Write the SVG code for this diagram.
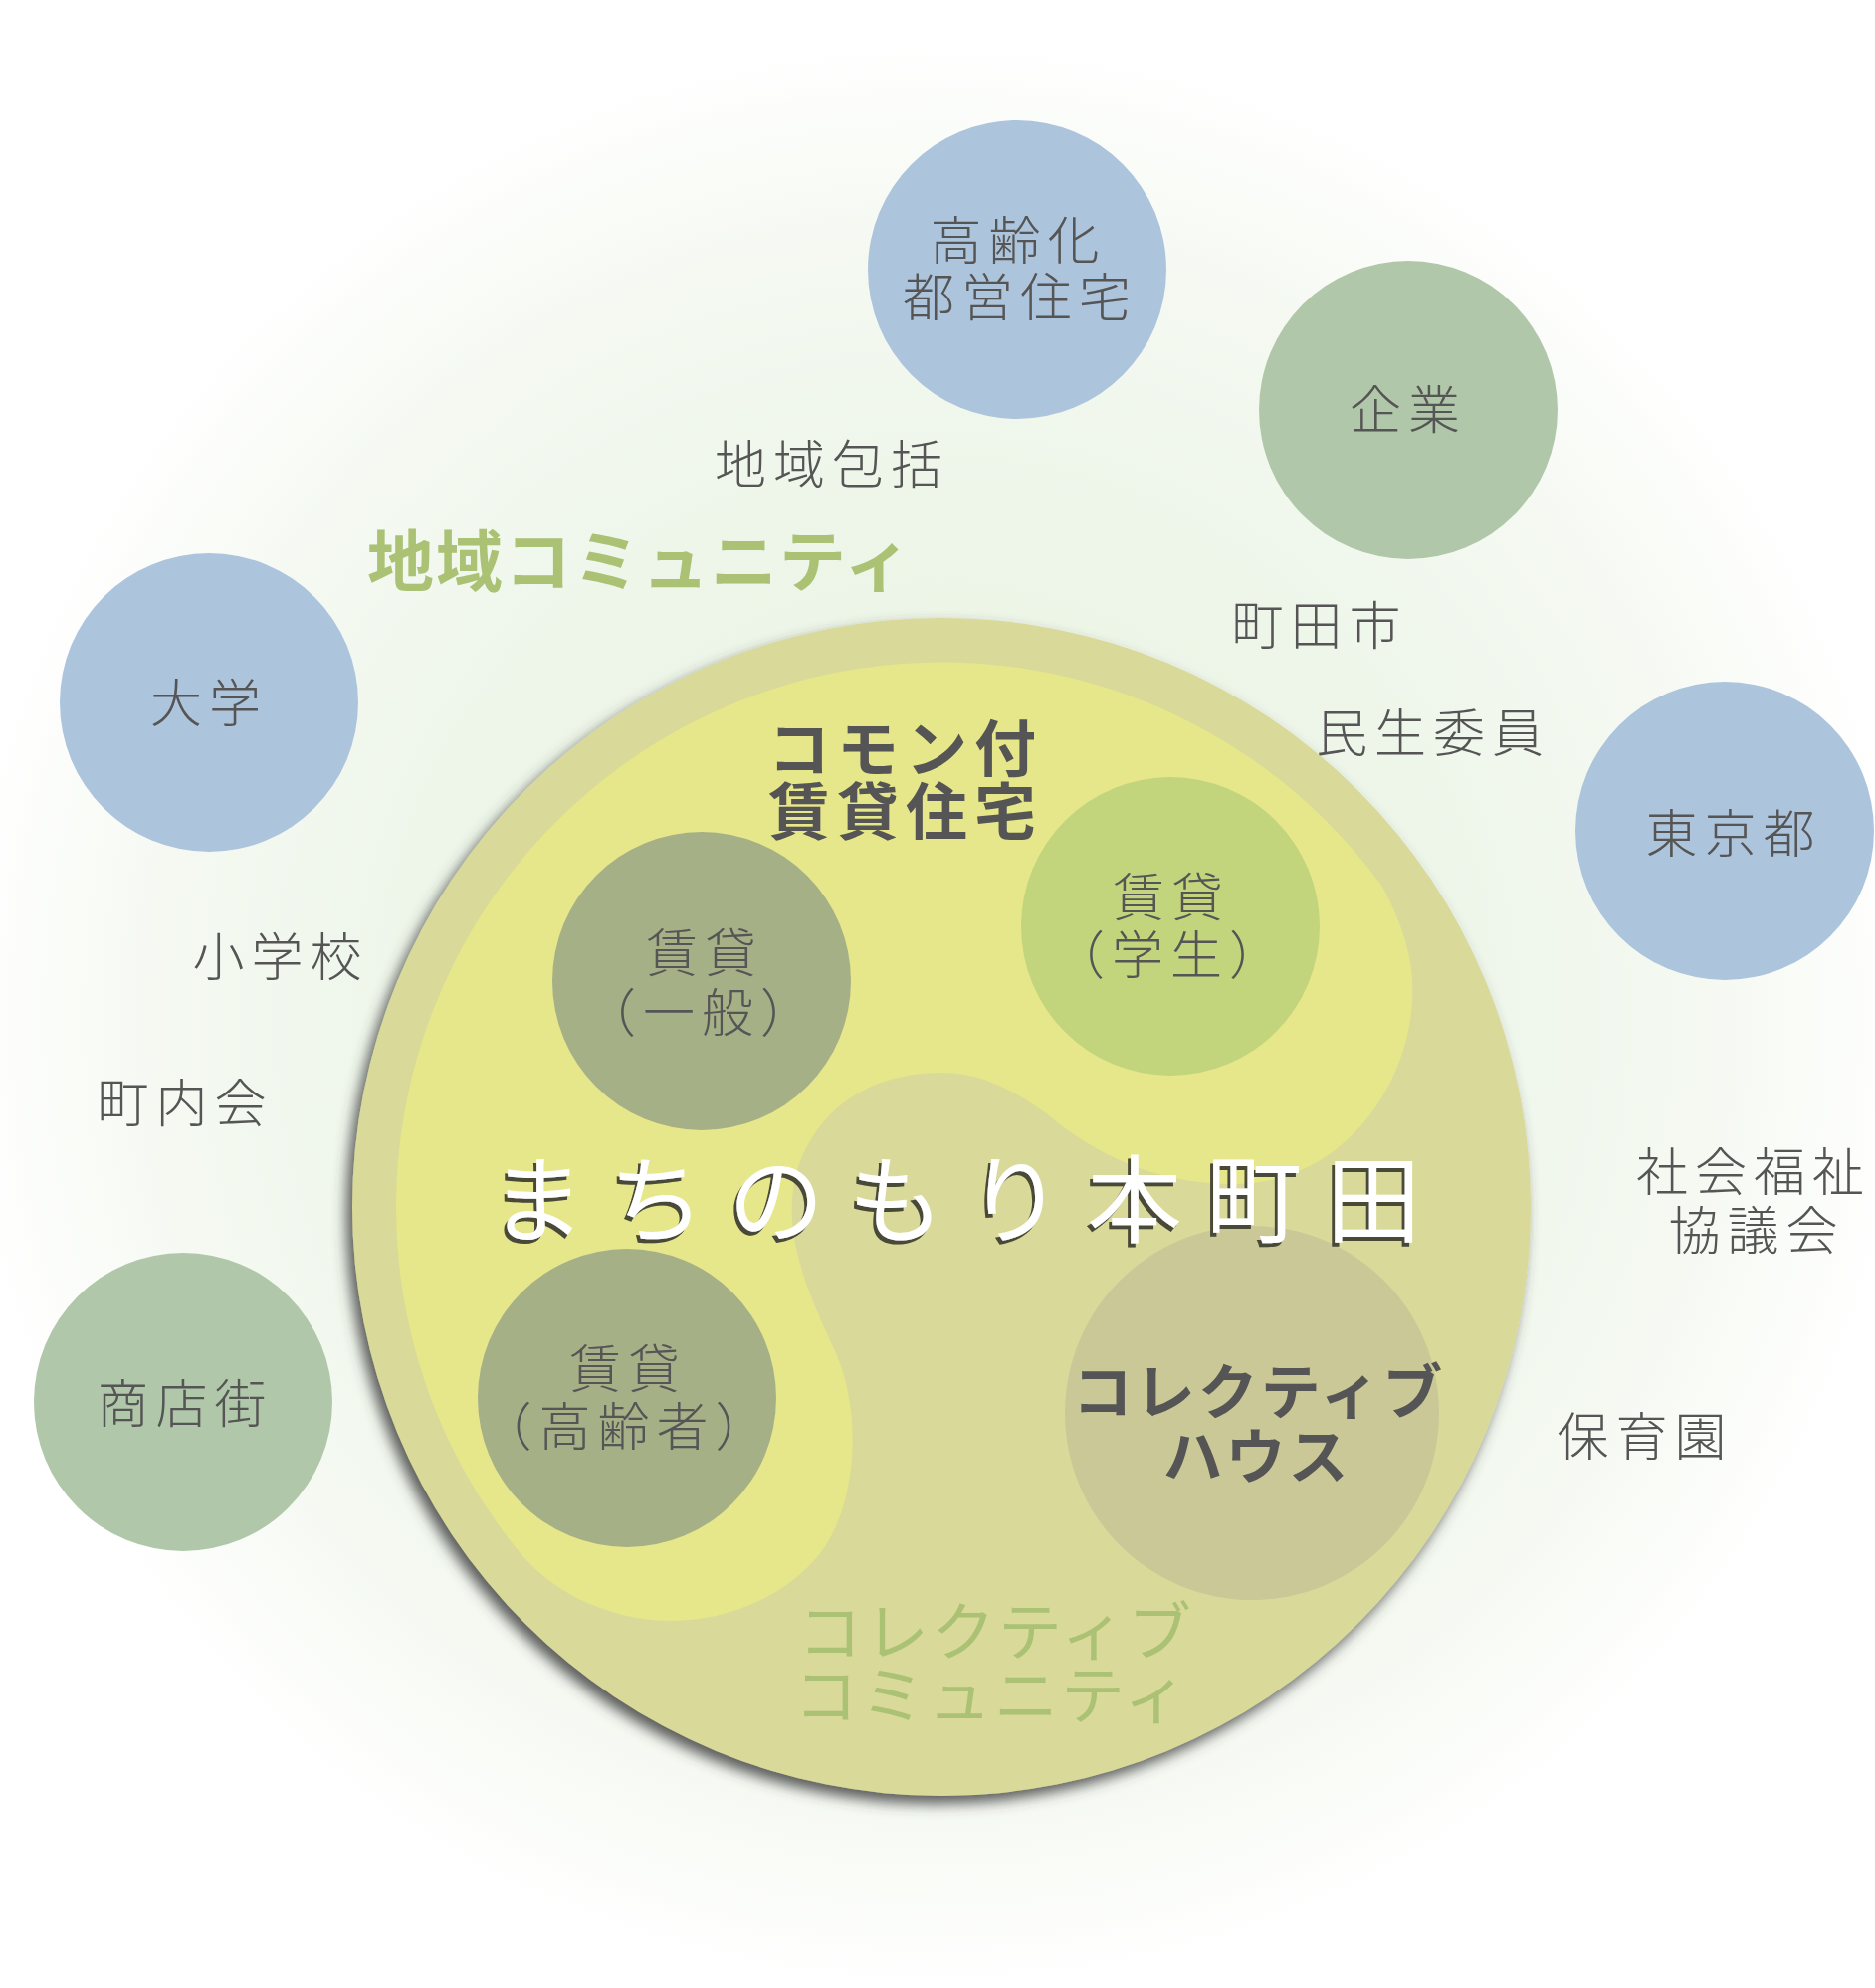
<svg xmlns="http://www.w3.org/2000/svg" width="1884" height="1998" viewBox="0 0 1884 1998">
<style>
.lbl{font-family:"Noto Sans CJK JP","Noto Sans CJK SC",sans-serif;font-weight:300;font-size:52px;fill:#555555;letter-spacing:7px;text-anchor:middle}
.bold{font-family:"Noto Sans CJK JP","Noto Sans CJK SC",sans-serif;font-weight:700;fill:#555555;text-anchor:middle}
.grn{font-family:"Noto Sans CJK JP","Noto Sans CJK SC",sans-serif;fill:#abc275;text-anchor:middle}
.title{font-family:"Noto Sans CJK JP","Noto Sans CJK SC",sans-serif;font-weight:400;font-size:96px;letter-spacing:24px;fill:#ffffff}
.blue{fill:#adc4dd}
.green{fill:#b0c8a9}
.olive{fill:#a5b087}
</style>
<defs>
<radialGradient id="bg" cx="940" cy="1020" r="980" gradientUnits="userSpaceOnUse">
<stop offset="0" stop-color="#eaf3df"/>
<stop offset="0.55" stop-color="#eef6ea"/>
<stop offset="0.8" stop-color="#f5f9f2"/>
<stop offset="1" stop-color="#ffffff"/>
</radialGradient>
<filter id="sh" x="-10%" y="-10%" width="120%" height="125%">
<feDropShadow dx="-6" dy="8" stdDeviation="7" flood-color="#3f3f3f" flood-opacity="0.85"/>
</filter>
<filter id="tsh" x="-5%" y="-20%" width="110%" height="150%">
<feOffset in="SourceAlpha" dx="-3" dy="4" result="o"/>
<feFlood flood-color="#4a4838"/>
<feComposite in2="o" operator="in" result="s"/>
<feMerge><feMergeNode in="s"/><feMergeNode in="SourceGraphic"/></feMerge>
</filter>
</defs>
<rect width="1884" height="1998" fill="#ffffff"/>
<rect width="1884" height="1998" fill="url(#bg)"/>

<g id="connectors"/>

<g id="main">
<circle cx="946" cy="1213" r="592" fill="#d9da99" filter="url(#sh)"/>
<path id="common-rental-area" fill="#e6e68a" d="M 398 1213 A 548 548 0 0 1 1389 891 C 1410 930 1422 968 1419 1006 C 1415 1090 1350 1190 1240 1190 C 1160 1190 1100 1160 1050 1118 C 1010 1090 980 1078 946 1078 C 880 1078 820 1110 800 1180 C 785 1240 812 1300 840 1360 C 866 1420 862 1510 825 1560 C 790 1605 730 1629 675 1629 C 620 1629 560 1606 522 1560 A 548 548 0 0 1 398 1213 Z"/>
</g>

<g id="common-label">
<text class="bold" font-size="62" letter-spacing="7"><tspan x="910" y="776">コモン付</tspan><tspan x="910" y="839">賃貸住宅</tspan></text>
</g>

<g id="rental-general">
<circle class="olive" cx="705" cy="986" r="150"/>
<text class="lbl"><tspan x="708" y="977">賃貸</tspan><tspan x="705" y="1037">（一般）</tspan></text>
</g>

<g id="rental-student">
<circle cx="1176" cy="931" r="150" fill="#c2d57c"/>
<text class="lbl"><tspan x="1177" y="921">賃貸</tspan><tspan x="1176" y="979">（学生）</tspan></text>
</g>

<g id="rental-elderly">
<circle class="olive" cx="630" cy="1405" r="150"/>
<text class="lbl"><tspan x="631" y="1395">賃貸</tspan><tspan x="630" y="1453">（高齢者）</tspan></text>
</g>

<g id="collective-house">
<circle cx="1258" cy="1420" r="188" fill="#cbc897"/>
<text class="bold" font-size="60" letter-spacing="3"><tspan x="1265" y="1421">コレクティブ</tspan><tspan x="1263" y="1486">ハウス</tspan></text>
</g>

<g id="title">
<text class="title" x="492" y="1241" filter="url(#tsh)">まちのもり本町田</text>
</g>

<g id="collective-community">
<text class="grn" font-size="64" letter-spacing="3"><tspan x="1001" y="1663">コレクティブ</tspan><tspan x="997" y="1727">コミュニティ</tspan></text>
</g>

<g id="local-community">
<text class="grn" font-size="67" letter-spacing="2" font-weight="700" x="643" y="589" fill="#a8c06f">地域コミュニティ</text>
</g>

<g id="elderly-metro-housing">
<circle class="blue" cx="1022" cy="271" r="150"/>
<text class="lbl"><tspan x="1023" y="261">高齢化</tspan><tspan x="1025" y="318">都営住宅</tspan></text>
</g>

<g id="company">
<circle class="green" cx="1415" cy="412" r="150"/>
<text class="lbl" x="1415" y="431">企業</text>
</g>

<g id="university">
<circle class="blue" cx="210" cy="706" r="150"/>
<text class="lbl" x="210" y="726">大学</text>
</g>

<g id="tokyo">
<circle class="blue" cx="1733" cy="835" r="150"/>
<text class="lbl" x="1742" y="857">東京都</text>
</g>

<g id="shopping-street">
<circle class="green" cx="184" cy="1409" r="150"/>
<text class="lbl" x="186" y="1430">商店街</text>
</g>

<g id="labels">
<text class="lbl" x="836" y="486">地域包括</text>
<text class="lbl" x="1326" y="648">町田市</text>
<text class="lbl" x="1440" y="756">民生委員</text>
<text class="lbl" x="282" y="981">小学校</text>
<text class="lbl" x="186" y="1128">町内会</text>
<text class="lbl"><tspan x="1762" y="1197">社会福祉</tspan><tspan x="1765" y="1256">協議会</tspan></text>
<text class="lbl" x="1653" y="1463">保育園</text>
</g>
</svg>
